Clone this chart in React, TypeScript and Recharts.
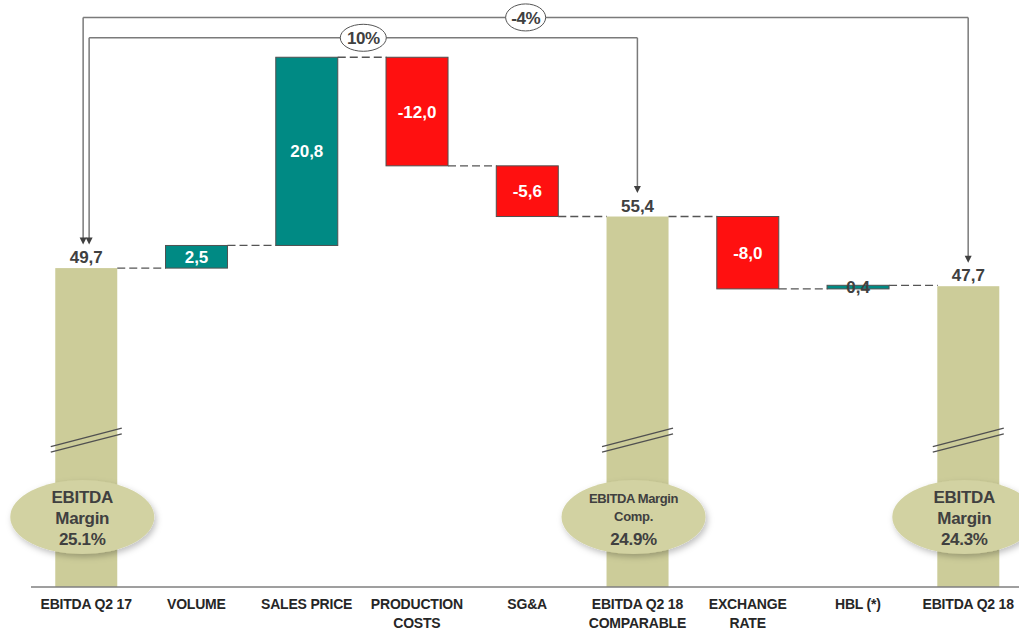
import React from "react";
import { BarChart, Bar, XAxis, YAxis, ReferenceLine } from "recharts";

// categories, in order
const categories = [
  "EBITDA Q2 17",
  "VOLUME",
  "SALES PRICE",
  "PRODUCTION COSTS",
  "SG&A",
  "EBITDA Q2 18 COMPARABLE",
  "EXCHANGE RATE",
  "HBL (*)",
  "EBITDA Q2 18",
];
const tickLines = [
  ["EBITDA Q2 17"],
  ["VOLUME"],
  ["SALES PRICE"],
  ["PRODUCTION", "COSTS"],
  ["SG&A"],
  ["EBITDA Q2 18", "COMPARABLE"],
  ["EXCHANGE", "RATE"],
  ["HBL (*)"],
  ["EBITDA Q2 18"],
];
// totals (null = step) and steps (null = total)
const totals = [49.7, null, null, null, null, 55.4, null, null, 47.7];
const deltas = [null, 2.5, 20.8, -12.0, -5.6, null, -8.0, 0.4, null];

// margin bubbles on the total bars
const marginTitles = [["EBITDA", "Margin"], null, null, null, null, ["EBITDA Margin", "Comp."], null, null, ["EBITDA", "Margin"]];
const marginValues = ["25.1%", null, null, null, null, "24.9%", null, null, "24.3%"];

// growth brackets
const brackets = [
  { label: "-4%", from: "EBITDA Q2 17", to: "EBITDA Q2 18", level: 77.4, fromDx: -3, fromVal: 49.7, toVal: 47.7 },
  { label: "10%", from: "EBITDA Q2 17", to: "EBITDA Q2 18 COMPARABLE", level: 75.15, fromDx: 3, fromVal: 49.7, toVal: 55.4 },
];

const Y_MIN = 14.46;
const Y_MAX = 78;
const BREAK_AT = 31;
const GAP_RATIO = 0.22;

const FONT = "'Liberation Sans', Arial, sans-serif";
const TOTAL_FILL = "#CCCC99";
const UP_FILL = "#008A84";
const DOWN_FILL = "#FF1010";
const DARK = "#404040";

let running = 0;
const rows = categories.map((name, i) => {
  const t = totals[i];
  if (t != null) {
    running = t;
    return { name, range: t as any, kind: "total", value: t, idx: i };
  }
  const d = deltas[i] as number;
  const start = running;
  running = Math.round((start + d) * 10) / 10;
  return {
    name,
    range: [Math.min(start, running), Math.max(start, running)] as any,
    kind: d >= 0 ? "up" : "down",
    value: d,
    idx: i,
  };
});

const fmt = (v: number) => v.toFixed(1).replace(".", ",");

function WaterfallShape(props: any) {
  const { x, y, width, height, payload, index } = props;
  const kind = payload.kind;
  const cx = x + width / 2;
  const gap = width / (1 - 2 * GAP_RATIO) - width;
  const endY = kind === "down" ? y + height : y;
  const last = index === categories.length - 1;
  const out: any[] = [];

  if (kind === "total") {
    out.push(<rect key="r" x={x} y={y} width={width} height={height} fill={TOTAL_FILL} />);
    // axis break marks
    const by = y + (height * (payload.value - BREAK_AT)) / (payload.value - Y_MIN);
    [0, 5.7].forEach((off, k) =>
      out.push(
        <line key={"b" + k} x1={cx - 35.5} y1={by + 9.2 + off} x2={cx + 35.5} y2={by - 9.2 + off} stroke="#505050" strokeWidth={1.3} />
      )
    );
    out.push(
      <text key="t" x={cx} y={y - 5} textAnchor="middle" fontSize={17} fontWeight="bold" fill={DARK} fontFamily={FONT}>
        {fmt(payload.value)}
      </text>
    );
    const titles = marginTitles[payload.idx];
    if (titles) {
      const ex = cx - 4;
      const ey = y + height - 70;
      const small = titles[0].length > 8;
      out.push(
        <g key="m">
          <defs>
            <filter id={"sh" + index} x="-20%" y="-20%" width="150%" height="160%">
              <feDropShadow dx="2" dy="3" stdDeviation="3" floodColor="#000" floodOpacity="0.25" />
            </filter>
          </defs>
          <ellipse cx={ex} cy={ey} rx={72} ry={37} fill="#D2D2A2" filter={`url(#sh${index})`} />
          <text x={ex} y={ey - 14} textAnchor="middle" fontSize={small ? 13 : 17} fontWeight="bold" fill={DARK} fontFamily={FONT} letterSpacing={small ? -0.4 : -0.3}>
            {titles[0]}
          </text>
          <text x={ex} y={small ? ey + 4 : ey + 7} textAnchor="middle" fontSize={small ? 13 : 17} fontWeight="bold" fill={DARK} fontFamily={FONT} letterSpacing={-0.3}>
            {titles[1]}
          </text>
          <text x={ex} y={ey + 28} textAnchor="middle" fontSize={17} fontWeight="bold" fill={DARK} fontFamily={FONT} letterSpacing={-0.3}>
            {marginValues[payload.idx]}
          </text>
        </g>
      );
    }
  } else {
    const fill = kind === "up" ? UP_FILL : DOWN_FILL;
    out.push(<rect key="r" x={x} y={y} width={width} height={Math.max(height, 3)} fill={fill} stroke="#505050" strokeWidth={1} />);
    const small = height < 10;
    out.push(
      <text
        key="t"
        x={cx}
        y={y + height / 2}
        dy="0.36em"
        textAnchor="middle"
        fontSize={17}
        fontWeight="bold"
        fill={small ? DARK : "#ffffff"}
        fontFamily={FONT}
      >
        {fmt(payload.value)}
      </text>
    );
  }

  if (!last) {
    out.push(
      <line key="c" x1={x + width} y1={endY} x2={x + width + gap} y2={endY} stroke="#555" strokeWidth={1.3} strokeDasharray="8 4" />
    );
  }
  return <g>{out}</g>;
}

function Tick(props: any) {
  const { x, y, payload } = props;
  const i = categories.indexOf(payload.value);
  const lines = tickLines[i] || [payload.value];
  return (
    <text x={x} y={y + 14} textAnchor="middle" fontSize={14} fontWeight="bold" fill="#262626" fontFamily={FONT} letterSpacing={-0.2}>
      {lines.map((l, k) => (
        <tspan key={k} x={x} dy={k === 0 ? 0 : 19}>
          {l}
        </tspan>
      ))}
    </text>
  );
}

function arrowTip(x: number, y: number) {
  return <path d={`M${x - 3.5},${y - 7} L${x + 3.5},${y - 7} L${x},${y} Z`} fill={DARK} />;
}

const legShape = (dx: number) => (p: any) => {
  const x = p.x1 + dx;
  const tip = p.y2 - 23.5;
  return (
    <g>
      <line x1={x} y1={p.y1} x2={x} y2={tip - 6} stroke="#7a7a7a" strokeWidth={1.5} />
      {arrowTip(x, tip)}
    </g>
  );
};

const spanShape = (dx: number, label: string) => (p: any) => {
  const xa = p.x1 + dx;
  const xb = p.x2;
  const mid = (xa + xb) / 2;
  return (
    <g>
      <line x1={xa} y1={p.y1} x2={xb} y2={p.y2} stroke="#7a7a7a" strokeWidth={1.5} />
      <ellipse cx={mid} cy={p.y1} rx={label === "10%" ? 23 : 20} ry={13.5} fill="#fff" stroke="#555" strokeWidth={1} />
      <text x={mid} y={p.y1} dy="0.36em" textAnchor="middle" fontSize={17} fontWeight="bold" fill={DARK} fontFamily={FONT} letterSpacing={-0.5}>
        {label}
      </text>
    </g>
  );
};

export default function App() {
  return (
    <div style={{ position: "absolute", left: 0, top: 0, width: 1019, height: 630, overflow: "hidden", background: "#fff" }}>
      <BarChart
        width={1030}
        height={630}
        data={rows}
        margin={{ top: 12, right: 6.7, left: 31, bottom: 3 }}
        barCategoryGap="22%"
        style={{ fontFamily: FONT }}
      >
        <XAxis
          dataKey="name"
          height={40}
          tickLine={false}
          axisLine={{ stroke: "#7f7f7f", strokeWidth: 1.5 }}
          tick={<Tick />}
          interval={0}
        />
        <YAxis hide type="number" scale="linear" domain={[Y_MIN, Y_MAX]} />
        <Bar dataKey="range" isAnimationActive={false} shape={<WaterfallShape />} />
        {brackets.map((b, i) => (
          <ReferenceLine
            key={"s" + i}
            ifOverflow="visible"
            segment={[{ x: b.from, y: b.level }, { x: b.to, y: b.level }]}
            shape={spanShape(b.fromDx, b.label)}
          />
        ))}
        {brackets.map((b, i) => (
          <ReferenceLine
            key={"l" + i}
            ifOverflow="visible"
            segment={[{ x: b.from, y: b.level }, { x: b.from, y: b.fromVal }]}
            shape={legShape(b.fromDx)}
          />
        ))}
        {brackets.map((b, i) => (
          <ReferenceLine
            key={"r" + i}
            ifOverflow="visible"
            segment={[{ x: b.to, y: b.level }, { x: b.to, y: b.toVal }]}
            shape={legShape(0)}
          />
        ))}
      </BarChart>
    </div>
  );
}
